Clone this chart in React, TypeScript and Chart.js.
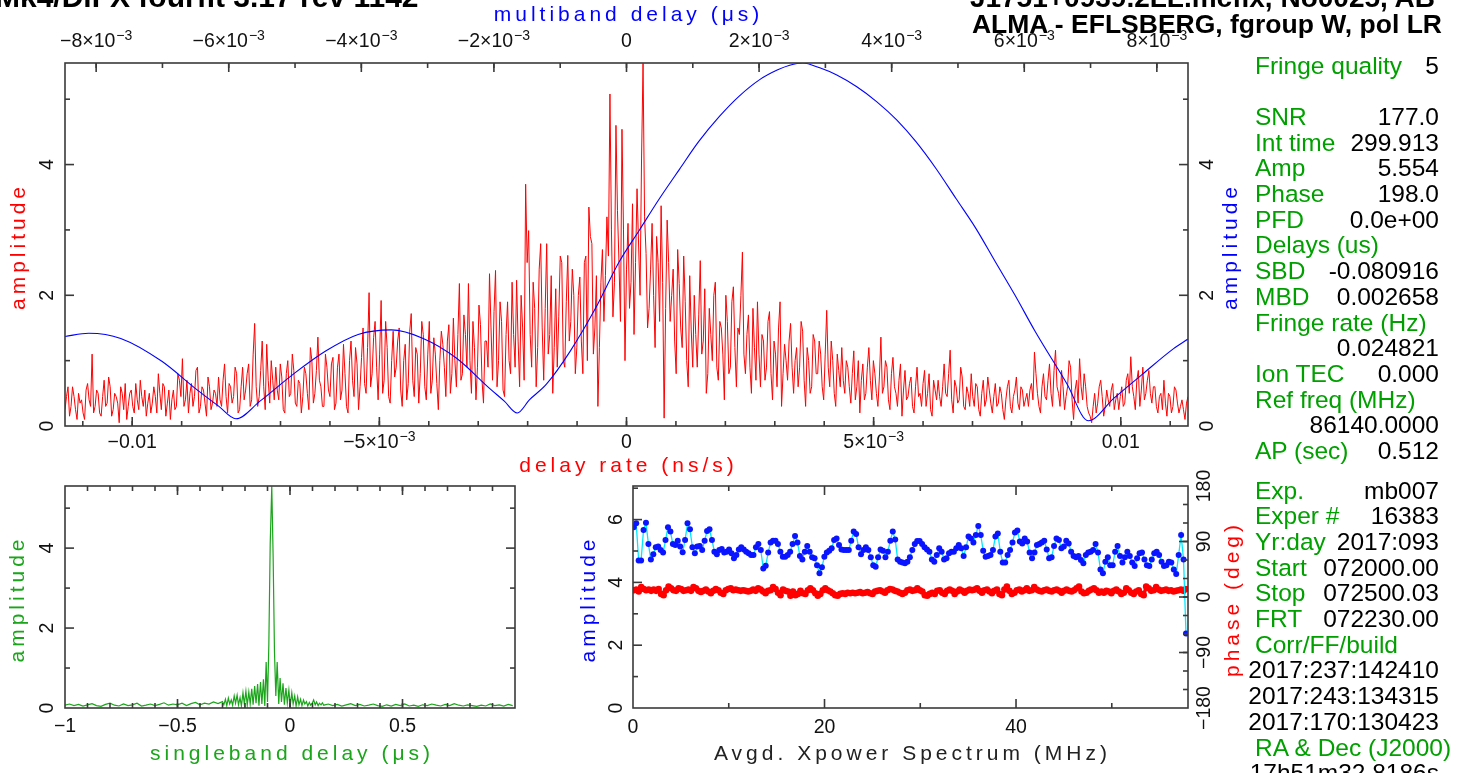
import React, { useEffect, useRef } from 'react';
import { Chart, registerables } from 'chart.js';

Chart.register(...registerables);

// ---------------- data ----------------
// Main panel: fringe amplitude vs delay rate (ns/s).
// RATE_AMP holds the even channels, RATE_AMP_ODD the channels half-way between them.
const RATE_RANGE = [-0.01136, 0.01136];
const RATE_AMP = [
  0.25, 0.6, 0.3, 0.45, 0.1, 0.35, 0.2, 0.55, 0.4, 1.1,
  0.3, 0.5, 0.15, 0.7, 0.35, 0.6, 0.25, 0.45, 0.05, 0.5,
  0.65, 0.3, 0.55, 0.2, 0.4, 0.7, 0.3, 0.15, 0.5, 0.35,
  0.45, 0.8, 0.25, 0.6, 0.35, 0.1, 0.55, 0.3, 0.7, 1.03,
  0.4, 0.2, 0.65, 0.45, 0.9, 0.3, 0.55, 0.15, 0.6, 0.35,
  0.5, 0.75, 0.3, 0.95, 0.2, 0.6, 0.45, 0.8, 0.25, 0.9,
  0.55, 0.95, 0.4, 1.57, 0.3, 0.85, 0.6, 1.25, 0.35, 0.7,
  0.9, 0.4, 0.75, 0.2, 1.0, 0.5, 0.85, 0.3, 0.65, 0.45,
  0.8, 0.25, 1.0, 0.5, 1.36, 0.6, 0.3, 0.9, 0.45, 1.05,
  0.35, 1.1, 0.55, 0.8, 0.2, 1.3, 0.45, 0.95, 0.6, 1.5,
  0.5, 2.04, 0.8, 1.6, 0.4, 1.92, 0.7, 1.2, 0.35, 1.45,
  0.9, 1.5, 0.3, 1.25, 0.65, 1.72, 0.45, 1.1, 0.8, 1.4,
  0.4, 1.6, 0.7, 1.1, 0.25, 1.45, 0.9, 1.3, 0.5, 1.65,
  0.6, 2.18, 0.8, 1.4, 2.18, 0.5, 1.2, 0.9, 1.55, 0.35,
  1.3, 2.33, 0.7, 2.38, 1.0, 1.6, 0.45, 1.9, 0.8, 1.4,
  2.23, 0.6, 1.5, 3.7, 2.99, 0.9, 1.8, 1.2, 2.79, 0.7,
  2.79, 1.4, 0.5, 2.1, 1.67, 2.5, 0.9, 2.61, 1.6, 2.0,
  1.2, 2.28, 0.8, 2.6, 3.35, 2.79, 1.5, 0.3, 2.2, 1.6,
  3.2, 5.08, 1.67, 4.6, 2.5, 4.54, 1.0, 3.1, 2.2, 1.4,
  3.63, 2.0, 5.55, 2.64, 1.8, 3.1, 1.2, 2.5, 3.37, 0.12,
  3.15, 1.6, 2.4, 0.8, 2.18, 1.2, 1.9, 0.6, 1.47, 2.0,
  0.9, 2.53, 1.3, 0.5, 1.8, 1.0, 2.2, 0.7, 1.5, 0.4,
  1.6, 0.9, 2.13, 0.6, 1.4, 2.66, 0.8, 1.7, 0.5, 1.2,
  1.9, 0.6, 1.3, 0.9, 1.75, 0.4, 1.1, 1.5, 0.3, 1.25,
  0.7, 1.57, 0.5, 1.2, 0.9, 1.45, 0.3, 1.0, 0.6, 1.3,
  0.8, 1.1, 0.4, 1.77, 0.6, 1.0, 0.3, 0.85, 1.2, 0.5,
  0.9, 0.35, 1.15, 0.6, 0.2, 0.95, 0.5, 1.2, 0.4, 0.8,
  0.3, 1.36, 0.6, 0.9, 0.25, 1.05, 0.5, 0.7, 0.15, 0.85,
  0.45, 0.75, 0.2, 0.9, 0.5, 0.65, 0.3, 0.8, 0.15, 0.55,
  0.7, 0.3, 0.95, 0.45, 1.16, 0.2, 0.6, 0.4, 0.75, 0.25,
  0.5, 0.8, 0.3, 0.6, 0.15, 0.7, 0.4, 0.55, 0.2, 0.65,
  0.35, 0.5, 0.1, 0.6, 0.3, 0.45, 0.75, 0.25, 0.55, 0.4,
  0.3, 0.65, 1.13, 0.5, 0.2, 0.8, 0.4, 0.95, 0.3, 1.16,
  0.5, 0.85, 0.25, 0.6, 0.9, 0.1, 0.7, 1.03, 0.4, 0.6,
  0.2, 0.05, 0.5, 0.35, 0.7, 0.15, 0.55, 0.3, 0.65, 0.4,
  0.25, 0.6, 0.35, 0.8, 1.06, 0.45, 0.7, 0.3, 0.9, 0.5,
  0.85, 0.35, 0.6, 0.2, 0.5, 0.7, 0.15, 0.45, 0.3, 0.55,
  0.2, 0.4, 0.1, 0.45,
];
const RATE_AMP_ODD = [
  0.45, 0.15, 0.6, 0.25, 0.5, 0.4, 0.1, 0.65, 0.3, 0.2,
  0.55, 0.2, 0.45, 0.3, 0.75, 0.15, 0.5, 0.35, 0.6, 0.25,
  0.1, 0.5, 0.3, 0.65, 0.25, 0.45, 0.55, 0.35, 0.2, 0.6,
  0.2, 0.5, 0.65, 0.15, 0.55, 0.4, 0.25, 0.8, 0.45, 0.3,
  0.7, 0.5, 0.3, 0.85, 0.2, 0.6, 0.35, 0.75, 0.25, 0.55,
  0.3, 0.4, 0.7, 0.45, 0.65, 0.35, 0.9, 0.2, 0.6, 0.4,
  0.8, 0.3, 1.1, 0.6, 0.45, 1.3, 0.25, 0.7, 1.0, 0.4,
  0.55, 0.95, 0.25, 0.8, 0.45, 1.1, 0.35, 0.7, 0.2, 0.9,
  0.5, 1.2, 0.35, 0.85, 0.7, 0.3, 1.1, 0.55, 0.95, 0.25,
  0.9, 0.4, 1.25, 0.3, 1.0, 0.7, 1.2, 0.25, 1.05, 0.65,
  1.2, 0.6, 1.35, 0.9, 1.1, 0.5, 1.6, 0.45, 1.0, 0.75,
  1.3, 0.55, 1.0, 0.4, 1.45, 0.7, 1.2, 0.35, 1.6, 0.6,
  1.1, 0.5, 1.35, 0.65, 1.0, 1.25, 0.45, 1.55, 0.8, 1.0,
  1.4, 0.7, 1.7, 0.9, 1.0, 1.6, 0.4, 1.85, 0.7, 1.3,
  0.9, 1.5, 1.75, 0.6, 1.9, 0.55, 1.4, 1.0, 2.2, 0.9,
  1.3, 2.0, 0.7, 2.5, 1.4, 2.2, 0.6, 2.4, 1.5, 1.8,
  1.1, 2.3, 1.2, 0.9, 2.6, 1.0, 1.9, 1.3, 2.4, 0.8,
  2.0, 1.3, 2.5, 1.0, 2.9, 1.1, 2.3, 1.2, 2.7, 2.3,
  2.6, 3.0, 2.2, 3.3, 1.6, 3.0, 2.4, 1.8, 3.4, 2.5,
  2.8, 4.1, 3.2, 1.5, 2.4, 2.0, 2.9, 1.6, 2.2, 1.8,
  2.5, 2.0, 1.3, 2.7, 1.5, 2.6, 1.0, 2.3, 0.9, 1.4,
  1.7, 1.1, 2.1, 0.8, 1.4, 2.0, 0.9, 1.6, 1.1, 2.0,
  0.8, 1.9, 1.2, 1.5, 2.0, 1.1, 1.4, 0.9, 1.8, 0.7,
  1.1, 1.4, 0.7, 1.6, 0.8, 1.3, 0.6, 1.9, 0.8, 1.0,
  1.3, 0.9, 1.0, 0.6, 1.6, 0.7, 1.2, 0.5, 1.4, 0.8,
  1.3, 0.6, 1.1, 0.9, 1.3, 0.5, 1.1, 0.6, 0.7, 1.0,
  0.6, 0.8, 0.4, 1.0, 0.7, 0.4, 0.9, 0.7, 1.0, 0.5,
  0.75, 0.5, 1.0, 0.4, 0.8, 0.6, 0.3, 0.95, 0.55, 0.4,
  0.65, 0.3, 0.6, 0.45, 0.3, 0.85, 0.5, 0.25, 0.7, 0.4,
  0.45, 0.6, 0.5, 0.8, 0.4, 0.7, 0.35, 0.9, 0.3, 0.6,
  0.3, 0.45, 0.65, 0.25, 0.5, 0.3, 0.75, 0.35, 0.45, 0.3,
  0.6, 0.25, 0.4, 0.7, 0.2, 0.55, 0.35, 0.6, 0.3, 0.5,
  0.55, 0.4, 0.8, 0.3, 0.6, 0.45, 0.7, 0.5, 0.85, 0.6,
  0.3, 0.6, 0.45, 1.0, 0.4, 0.55, 0.35, 0.6, 0.8, 0.3,
  0.15, 0.3, 0.2, 0.6, 0.45, 0.3, 0.4, 0.55, 0.25, 0.5,
  0.45, 0.3, 0.7, 0.5, 0.6, 0.25, 0.85, 0.55, 0.4, 0.7,
  0.5, 0.6, 0.3, 0.45, 0.25, 0.35, 0.5, 0.2, 0.6, 0.35,
  0.3, 0.25, 0.35,
];

// Main panel: multiband delay function (µs vs amplitude)
const MBD_RANGE = [-0.00847, 0.00847];
const MBD_DELAY = [
  -0.00847, -0.008112, -0.007629, -0.007009, -0.006511, -0.006148, -0.005891, -0.005529,
  -0.00503, -0.004532, -0.004048, -0.00355, -0.003067, -0.002568, -0.00207, -0.001843,
  -0.001647, -0.001465, -0.001208, -0.000846, -0.000468, -0.000106, 0.000196, 0.000498,
  0.000801, 0.001088, 0.001405, 0.001692, 0.002009, 0.002281, 0.002462, 0.002658,
  0.002915, 0.003172, 0.003474, 0.003777, 0.004079, 0.004366, 0.004668, 0.00497,
  0.005272, 0.005559, 0.005861, 0.006163, 0.006647, 0.006964, 0.007357, 0.00778,
  0.008248, 0.00847,
];
const MBD_AMP = [
  1.37, 1.42, 1.34, 0.99, 0.58, 0.3, 0.11, 0.38,
  0.79, 1.15, 1.4, 1.47, 1.34, 1.04, 0.58, 0.38,
  0.2, 0.4, 0.64, 1.15, 1.8, 2.52, 3.0, 3.48,
  3.93, 4.35, 4.74, 5.04, 5.3, 5.45, 5.52, 5.554,
  5.48, 5.37, 5.19, 4.96, 4.68, 4.35, 3.94, 3.48,
  3.02, 2.52, 2.0, 1.45, 0.64, 0.08, 0.43, 0.79,
  1.18, 1.33,
];
const AMP_MAX = 5.554;

// Singleband delay function
const SBD_DELAY = [
  -1, -0.98, -0.96, -0.94, -0.92, -0.9, -0.88, -0.86, -0.84, -0.82,
  -0.8, -0.78, -0.76, -0.74, -0.72, -0.7, -0.68, -0.66, -0.64, -0.62,
  -0.6, -0.58, -0.56, -0.54, -0.52, -0.5, -0.48, -0.46, -0.44, -0.42,
  -0.4, -0.38, -0.36, -0.34, -0.32,
  -0.3, -0.294, -0.287, -0.281, -0.274, -0.268, -0.261, -0.255, -0.248, -0.242,
  -0.235, -0.229, -0.222, -0.216, -0.209, -0.203, -0.196, -0.19, -0.183, -0.177,
  -0.17, -0.164, -0.157, -0.151, -0.144, -0.138, -0.131, -0.125, -0.118, -0.112,
  -0.106, -0.1, -0.094, -0.088, -0.081, -0.075, -0.069, -0.063, -0.057, -0.05,
  -0.044, -0.038, -0.031, -0.025, -0.018, -0.012, -0.005, 0.001, 0.008, 0.014,
  0.021, 0.027, 0.034, 0.04, 0.047, 0.053, 0.06, 0.066, 0.073, 0.079,
  0.086, 0.092, 0.099, 0.105, 0.112, 0.118, 0.125, 0.131, 0.138, 0.144, 0.15,
  0.17, 0.19, 0.21, 0.23, 0.25, 0.27, 0.29, 0.31, 0.33, 0.35,
  0.37, 0.39, 0.41, 0.43, 0.45, 0.47, 0.49, 0.51, 0.53, 0.55,
  0.57, 0.59, 0.61, 0.63, 0.65, 0.67, 0.69, 0.71, 0.73, 0.75,
  0.77, 0.79, 0.81, 0.83, 0.85, 0.87, 0.89, 0.91, 0.93, 0.95, 0.97, 0.99,
];
const SBD_AMP = [
  0.07, 0.1, 0.06, 0.09, 0.05, 0.08, 0.11, 0.06, 0.04, 0.09,
  0.12, 0.07, 0.05, 0.1, 0.06, 0.08, 0.12, 0.05, 0.07, 0.1,
  0.06, 0.09, 0.13, 0.07, 0.1, 0.08, 0.12, 0.06, 0.11, 0.14,
  0.08, 0.12, 0.1, 0.15, 0.11,
  0.16, 0.08, 0.22, 0.06, 0.25, 0.1, 0.2, 0.07, 0.3, 0.12,
  0.32, 0.08, 0.26, 0.05, 0.38, 0.1, 0.42, 0.07, 0.4, 0.1,
  0.48, 0.08, 0.55, 0.12, 0.6, 0.06, 0.65, 0.1, 0.72, 0.05,
  1.15, 0.15, 1.6, 4.1, 5.55, 3.8, 1.4, 0.3, 1.15, 0.1,
  0.75, 0.15, 0.62, 0.08, 0.5, 0.12, 0.45, 0.06, 0.38, 0.1,
  0.3, 0.05, 0.28, 0.08, 0.22, 0.06, 0.2, 0.1, 0.16, 0.05,
  0.14, 0.07, 0.12, 0.2, 0.08, 0.15, 0.06, 0.12, 0.08, 0.13, 0.07,
  0.1, 0.06, 0.09, 0.05, 0.08, 0.11, 0.06, 0.09, 0.05, 0.07,
  0.1, 0.06, 0.04, 0.08, 0.05, 0.09, 0.06, 0.1, 0.05, 0.07,
  0.04, 0.08, 0.06, 0.1, 0.07, 0.05, 0.09, 0.06, 0.11, 0.07,
  0.05, 0.08, 0.06, 0.04, 0.07, 0.05, 0.1, 0.06, 0.08, 0.05, 0.09, 0.06,
];

// Averaged cross-power spectrum, channels evenly spaced from first to last frequency
const SPEC_FREQ_RANGE = [0.08, 57.75];
const SPEC_AMP = [
  5.76, 5.88, 4.7, 4.7, 5.67, 5.9, 5.22, 4.73, 4.9, 5.12,
  5.14, 5.03, 4.95, 5.35, 5.76, 5.62, 5.22, 5.19, 5.33, 5.14,
  4.96, 5.35, 5.88, 5.69, 5.12, 4.93, 5.14, 5.16, 5.03, 5.33,
  5.64, 5.69, 5.35, 4.98, 4.9, 5.03, 5.06, 4.95, 4.98, 5.05,
  4.93, 4.77, 4.87, 5.05, 5.12, 5.05, 4.98, 4.93, 4.87, 4.87,
  5.12, 5.22, 5.03, 4.44, 4.53, 4.95, 5.27, 5.33, 5.33, 5.22,
  4.98, 4.82, 4.82, 4.87, 4.98, 5.22, 5.48, 5.27, 4.84, 4.73,
  4.98, 5.16, 4.98, 4.8, 4.77, 4.55, 4.29, 4.48, 4.82, 4.95,
  5.01, 5.09, 5.35, 5.4, 5.19, 5.05, 5.03, 5.03, 5.03, 5.33,
  5.62, 5.54, 5.12, 4.9, 5.03, 5.12, 5.03, 4.8, 4.55, 4.5,
  4.8, 5.05, 5.01, 4.8, 4.98, 5.33, 5.62, 5.37, 4.73, 4.66,
  4.63, 4.61, 4.66, 4.8, 5.03, 5.22, 5.32, 5.32, 5.22, 5.12,
  5.05, 4.98, 4.73, 4.66, 4.87, 5.09, 4.98, 4.73, 4.77, 4.93,
  4.98, 4.98, 5.09, 5.19, 5.09, 4.84, 5.12, 5.46, 5.4, 5.27,
  5.51, 5.8, 5.51, 5.01, 4.82, 4.84, 4.87, 5.03, 5.46, 5.56,
  4.98, 4.63, 4.63, 4.87, 5.03, 5.27, 5.59, 5.65, 5.3, 5.24,
  5.4, 5.3, 4.95, 4.77, 4.95, 5.19, 5.22, 5.27, 5.33, 5.05,
  4.77, 4.8, 5.16, 5.4, 5.35, 5.09, 5.14, 5.33, 5.24, 4.98,
  4.84, 4.8, 4.84, 4.71, 4.61, 4.87, 4.95, 4.98, 5.03, 5.22,
  4.95, 4.41, 4.29, 4.66, 4.8, 4.55, 4.55, 4.98, 5.16, 4.84,
  4.63, 4.8, 4.98, 4.84, 4.63, 4.52, 4.77, 4.93, 4.95, 4.73,
  4.55, 4.52, 4.73, 4.93, 4.98, 4.87, 4.66, 4.52, 4.55, 4.66,
  4.63, 4.41, 4.27, 4.87, 5.51, 4.73, 2.37,
];
const SPEC_PHASE = [
  11, 12, 9, 16, 13, 11, 12, 10, 12, 10, 13, 5, 3, 11, 17, 14, 11, 10, 14, 13,
  10, 11, 12, 10, 16, 14, 10, 8, 10, 12, 9, 6, 10, 13, 11, 7, 5, 11, 13, 14,
  11, 12, 11, 10, 11, 10, 9, 10, 12, 10, 14, 12, 9, 6, 10, 11, 16, 13, 7, 3,
  12, 10, 9, 2, 9, 3, 5, 10, 6, 5, 11, 14, 11, 6, 2, 5, 11, 14, 11, 9,
  6, 3, 2, 5, 6, 5, 7, 6, 7, 6, 7, 8, 6, 7, 8, 6, 5, 9, 10, 11,
  9, 7, 11, 13, 12, 10, 9, 7, 5, 7, 11, 12, 10, 11, 14, 11, 9, 3, 2, 5,
  7, 5, 10, 11, 7, 5, 10, 12, 10, 5, 9, 12, 10, 7, 10, 12, 11, 12, 14, 10,
  7, 11, 12, 9, 6, 10, 12, 5, 3, 12, 17, 10, 5, 7, 11, 12, 9, 11, 14, 10,
  11, 16, 12, 10, 9, 11, 12, 10, 9, 11, 12, 10, 7, 10, 12, 10, 9, 11, 14, 17,
  9, 6, 7, 10, 12, 14, 11, 7, 9, 7, 10, 9, 6, 10, 12, 9, 5, 7, 14, 11,
  7, 5, 9, 11, 5, 3, 17, 14, 10, 11, 16, 12, 10, 11, 12, 10, 11, 9, 10, 11,
  12, 10, 13,
];
const SPEC_X_MAX = 57.96;
const SPEC_AMP_MAX = 7.07;

// ---------------- tick labels ----------------
const RATE_TICKS = [-0.01, -0.005, 0, 0.005, 0.01];
const RATE_TICK_LABELS = ['−0.01', '−5×10⁻³', '0', '5×10⁻³', '0.01'];
const MBD_TICKS = [-0.008, -0.006, -0.004, -0.002, 0, 0.002, 0.004, 0.006, 0.008];
const MBD_TICK_LABELS = ['−8×10⁻³', '−6×10⁻³', '−4×10⁻³', '−2×10⁻³', '0', '2×10⁻³', '4×10⁻³', '6×10⁻³', '8×10⁻³'];
const AMP_TICKS = [0, 2, 4];
const AMP_TICK_LABELS = ['0', '2', '4'];
const AMP_MINOR = [1, 3, 5];
const SBD_TICKS = [-1, -0.5, 0, 0.5];
const SBD_TICK_LABELS = ['−1', '−0.5', '0', '0.5'];
const FREQ_TICKS = [0, 20, 40];
const FREQ_TICK_LABELS = ['0', '20', '40'];
const FREQ_MINOR = [10, 30, 50];
const SPEC_AMP_TICKS = [0, 2, 4, 6];
const SPEC_AMP_TICK_LABELS = ['0', '2', '4', '6'];
const SPEC_AMP_MINOR = [1, 3, 5, 7];
const PHASE_TICKS = [-180, -90, 0, 90, 180];
const PHASE_TICK_LABELS = ['−180', '−90', '0', '90', '180'];

// ---------------- text panel ----------------
const TITLE_LEFT = 'Mk4/DiFX fourfit 3.17 rev 1142';
const TITLE_RIGHT = 'J1751+0939.2LL.mcfix, No0025, AB';
const TITLE_BASELINE = 'ALMA - EFLSBERG, fgroup W, pol LR';
const INFO_TOP = [
  ['Fringe quality', '5'],
  ['', ''],
  ['SNR', '177.0'],
  ['Int time', '299.913'],
  ['Amp', '5.554'],
  ['Phase', '198.0'],
  ['PFD', '0.0e+00'],
  ['Delays (us)', ''],
  ['SBD', '-0.080916'],
  ['MBD', '0.002658'],
  ['Fringe rate (Hz)', ''],
  ['', '0.024821'],
  ['Ion TEC', '0.000'],
  ['Ref freq (MHz)', ''],
  ['', '86140.0000'],
  ['AP (sec)', '0.512'],
];
const INFO_BOTTOM = [
  ['Exp.', 'mb007'],
  ['Exper #', '16383'],
  ['Yr:day', '2017:093'],
  ['Start', '072000.00'],
  ['Stop', '072500.03'],
  ['FRT', '072230.00'],
  ['Corr/FF/build', ''],
  ['', '2017:237:142410'],
  ['', '2017:243:134315'],
  ['', '2017:170:130423'],
  ['RA & Dec (J2000)', ''],
  ['', '17h51m32.8186s'],
];

// ---------------- styles ----------------
const RED = '#ff0000';
const BLUE = '#0000ff';
const GREEN = '#1aa51a';
const PANEL_GREEN = '#00a000';
const FRAME = '#3a3a3a';
const TICK_FONT = '19.5px "Liberation Sans", "DejaVu Sans", sans-serif';
const EXP_FONT = '14px "Liberation Sans", "DejaVu Sans", sans-serif';
const TITLE_FONT = '21px "Liberation Sans", "DejaVu Sans", sans-serif';
const TITLE_SPACING = 4;

type Side = 'left' | 'right' | 'top' | 'bottom';
interface AxisDef {
  id: string;
  side: Side;
  major: number[];
  minor: number[];
  labels?: string[];
  labelGap?: number;
  title?: string;
  titleColor?: string;
  titleGap?: number;
}

function steps(from: number, to: number, step: number): number[] {
  const out: number[] = [];
  const n = Math.round((to - from) / step);
  for (let i = 0; i <= n; i++) out.push(+(from + i * step).toFixed(6));
  return out;
}

function evenly(values: number[], range: number[]) {
  const d = (range[1] - range[0]) / (values.length - 1);
  return values.map((v, i) => ({ x: range[0] + i * d, y: v }));
}

// even channels + odd (half-way) channels merged in axis order
function interleaved(even: number[], odd: number[], range: number[]) {
  const d = (range[1] - range[0]) / (even.length - 1);
  const out: { x: number; y: number }[] = [];
  even.forEach((v, i) => {
    out.push({ x: range[0] + i * d, y: v });
    if (i < odd.length) out.push({ x: range[0] + (i + 0.5) * d, y: odd[i] });
  });
  return out;
}

function placeText(ctx: CanvasRenderingContext2D, text: string, side: Side, a: any, p: number, gap: number) {
  ctx.save();
  ctx.textAlign = 'center';
  ctx.textBaseline = 'alphabetic';
  if (side === 'bottom') ctx.fillText(text, p, a.bottom + gap);
  else if (side === 'top') ctx.fillText(text, p, a.top - gap);
  else {
    const x = side === 'left' ? a.left - gap : a.right + gap;
    ctx.translate(x, p);
    ctx.rotate(-Math.PI / 2);
    ctx.fillText(text, 0, 0);
  }
  ctx.restore();
}

// tick label with a raised exponent ("5×10⁻³" drawn as 5×10 with a superscript −3)
const SUP_MAP: Record<string, string> = { '⁻': '−', '⁰': '0', '¹': '1', '²': '2', '³': '3', '⁴': '4', '⁵': '5', '⁶': '6', '⁷': '7', '⁸': '8', '⁹': '9' };
function placeTickLabel(ctx: CanvasRenderingContext2D, text: string, side: Side, a: any, p: number, gap: number) {
  const k = text.indexOf('⁻');
  if (k < 0 || (side !== 'top' && side !== 'bottom')) {
    ctx.font = TICK_FONT;
    placeText(ctx, text, side, a, p, gap);
    return;
  }
  const base = text.slice(0, k);
  const exp = text.slice(k).split('').map((c) => SUP_MAP[c] || c).join('');
  ctx.save();
  ctx.font = TICK_FONT;
  const wb = ctx.measureText(base).width;
  ctx.font = EXP_FONT;
  const we = ctx.measureText(exp).width;
  const x0 = p - (wb + we + 1) / 2;
  const y = side === 'bottom' ? a.bottom + gap : a.top - gap;
  ctx.textAlign = 'left';
  ctx.textBaseline = 'alphabetic';
  ctx.font = TICK_FONT;
  ctx.fillText(base, x0, y);
  ctx.font = EXP_FONT;
  ctx.fillText(exp, x0 + wb + 1, y - 7);
  ctx.restore();
}

function framePlugin(axes: AxisDef[]) {
  return {
    id: 'pgframe',
    afterDatasetsDraw(chart: any) {
      const ctx: CanvasRenderingContext2D = chart.ctx;
      const a = chart.chartArea;
      ctx.save();
      ctx.strokeStyle = FRAME;
      ctx.lineWidth = 1.6;
      ctx.strokeRect(a.left, a.top, a.right - a.left, a.bottom - a.top);
      for (const ax of axes) {
        const s = chart.scales[ax.id];
        const horiz = ax.side === 'top' || ax.side === 'bottom';
        const tick = (v: number, len: number) => {
          const p = s.getPixelForValue(v);
          if (horiz ? p < a.left + 1 || p > a.right - 1 : p < a.top + 1 || p > a.bottom - 1) return;
          ctx.beginPath();
          if (ax.side === 'bottom') { ctx.moveTo(p, a.bottom); ctx.lineTo(p, a.bottom - len); }
          else if (ax.side === 'top') { ctx.moveTo(p, a.top); ctx.lineTo(p, a.top + len); }
          else if (ax.side === 'left') { ctx.moveTo(a.left, p); ctx.lineTo(a.left + len, p); }
          else { ctx.moveTo(a.right, p); ctx.lineTo(a.right - len, p); }
          ctx.stroke();
        };
        ax.minor.forEach((v) => tick(v, 5));
        ax.major.forEach((v) => tick(v, 9));
        if (ax.labels) {
          ctx.fillStyle = '#111';
          ax.major.forEach((v, i) => {
            const t = ax.labels![i];
            if (t) placeTickLabel(ctx, t, ax.side, a, s.getPixelForValue(v), ax.labelGap || 0);
          });
        }
        if (ax.title) {
          ctx.font = TITLE_FONT;
          (ctx as any).letterSpacing = TITLE_SPACING + 'px';
          ctx.fillStyle = ax.titleColor || '#000';
          const mid = horiz ? (a.left + a.right) / 2 + TITLE_SPACING / 2 : (a.top + a.bottom) / 2 + TITLE_SPACING / 2;
          placeText(ctx, ax.title, ax.side, a, mid, ax.titleGap || 0);
          (ctx as any).letterSpacing = '0px';
        }
      }
      ctx.restore();
    },
  };
}

function baseOptions(pad: any) {
  return {
    animation: false,
    responsive: false,
    maintainAspectRatio: false,
    events: [],
    layout: { padding: pad },
    plugins: { legend: { display: false }, tooltip: { enabled: false }, title: { display: false } },
  };
}

const hidden = (min: number, max: number, axis: string) => ({ type: 'linear', axis, display: false, min, max });

function mainConfig(w: number, h: number) {
  const axes: AxisDef[] = [
    { id: 'x', side: 'bottom', major: RATE_TICKS, minor: steps(-0.011, 0.011, 0.001), labels: RATE_TICK_LABELS, labelGap: 22, title: 'delay rate (ns/s)', titleColor: RED, titleGap: 46 },
    { id: 'x2', side: 'top', major: MBD_TICKS, minor: steps(-0.008, 0.008, 0.001), labels: MBD_TICK_LABELS, labelGap: 16, title: 'multiband delay (μs)', titleColor: BLUE, titleGap: 42 },
    { id: 'y', side: 'left', major: AMP_TICKS, minor: AMP_MINOR, labels: AMP_TICK_LABELS, labelGap: 12, title: 'amplitude', titleColor: RED, titleGap: 40 },
    { id: 'y2', side: 'right', major: AMP_TICKS, minor: AMP_MINOR, labels: AMP_TICK_LABELS, labelGap: 25, title: 'amplitude', titleColor: BLUE, titleGap: 49 },
  ];
  return {
    type: 'line',
    data: {
      datasets: [
        {
          data: MBD_DELAY.map((d, i) => ({ x: d, y: MBD_AMP[i] })),
          xAxisID: 'x2', yAxisID: 'y2',
          borderColor: BLUE, borderWidth: 1.1, pointRadius: 0, cubicInterpolationMode: 'monotone',
        },
        {
          data: interleaved(RATE_AMP, RATE_AMP_ODD, RATE_RANGE),
          xAxisID: 'x', yAxisID: 'y',
          borderColor: RED, borderWidth: 1, pointRadius: 0, tension: 0,
        },
      ],
    },
    options: {
      ...baseOptions({ left: 65, top: 63, right: w - 1188, bottom: h - 426 }),
      scales: {
        x: hidden(RATE_RANGE[0], RATE_RANGE[1], 'x'),
        x2: hidden(MBD_RANGE[0], MBD_RANGE[1], 'x'),
        y: hidden(0, AMP_MAX, 'y'),
        y2: hidden(0, AMP_MAX, 'y'),
      },
    },
    plugins: [framePlugin(axes)],
  };
}

function sbdConfig(w: number, h: number) {
  const minor = steps(-1, 1, 0.1);
  const axes: AxisDef[] = [
    { id: 'x', side: 'bottom', major: SBD_TICKS, minor, labels: SBD_TICK_LABELS, labelGap: 24, title: 'singleband delay (μs)', titleColor: GREEN, titleGap: 52 },
    { id: 'x', side: 'top', major: SBD_TICKS, minor },
    { id: 'y', side: 'left', major: AMP_TICKS, minor: AMP_MINOR, labels: AMP_TICK_LABELS, labelGap: 12, title: 'amplitude', titleColor: GREEN, titleGap: 41 },
    { id: 'y', side: 'right', major: AMP_TICKS, minor: AMP_MINOR },
  ];
  return {
    type: 'line',
    data: {
      datasets: [
        {
          data: SBD_DELAY.map((d, i) => ({ x: d, y: SBD_AMP[i] })),
          borderColor: GREEN, borderWidth: 1.2, pointRadius: 0, tension: 0,
        },
      ],
    },
    options: {
      ...baseOptions({ left: 65, top: 16, right: w - 515, bottom: h - 238 }),
      scales: { x: hidden(-1, 1, 'x'), y: hidden(0, AMP_MAX, 'y') },
    },
    plugins: [framePlugin(axes)],
  };
}

function specConfig(w: number, h: number) {
  const axes: AxisDef[] = [
    { id: 'x', side: 'bottom', major: FREQ_TICKS, minor: FREQ_MINOR, labels: FREQ_TICK_LABELS, labelGap: 25, title: 'Avgd. Xpower Spectrum (MHz)', titleColor: '#222', titleGap: 52 },
    { id: 'x', side: 'top', major: FREQ_TICKS, minor: FREQ_MINOR },
    { id: 'y', side: 'left', major: SPEC_AMP_TICKS, minor: SPEC_AMP_MINOR, labels: SPEC_AMP_TICK_LABELS, labelGap: 11, title: 'amplitude', titleColor: BLUE, titleGap: 38 },
    { id: 'y2', side: 'right', major: PHASE_TICKS, minor: steps(-150, 150, 30), labels: PHASE_TICK_LABELS, labelGap: 22, title: 'phase (deg)', titleColor: RED, titleGap: 51 },
  ];
  return {
    type: 'line',
    data: {
      datasets: [
        {
          data: evenly(SPEC_AMP, SPEC_FREQ_RANGE),
          xAxisID: 'x', yAxisID: 'y',
          borderColor: '#00e8ff', borderWidth: 1.3, tension: 0,
          pointRadius: 3, pointBackgroundColor: '#0a14ff', pointBorderWidth: 0,
        },
        {
          data: evenly(SPEC_PHASE, SPEC_FREQ_RANGE),
          xAxisID: 'x', yAxisID: 'y2',
          borderColor: RED, borderWidth: 3.5, tension: 0,
          pointRadius: 3.3, pointBackgroundColor: RED, pointBorderWidth: 0,
        },
      ],
    },
    options: {
      ...baseOptions({ left: 63, top: 16, right: w - 618, bottom: h - 238 }),
      scales: {
        x: hidden(0, SPEC_X_MAX, 'x'),
        y: hidden(0, SPEC_AMP_MAX, 'y'),
        y2: hidden(-180, 180, 'y'),
      },
    },
    plugins: [framePlugin(axes)],
  };
}

function ChartCanvas(props: { left: number; top: number; width: number; height: number; make: (w: number, h: number) => any }) {
  const ref = useRef<HTMLCanvasElement>(null);
  const { left, top, width, height, make } = props;
  useEffect(() => {
    const chart = new Chart(ref.current as HTMLCanvasElement, make(width, height));
    return () => chart.destroy();
  }, []);
  return (
    <canvas
      ref={ref}
      width={width}
      height={height}
      style={{ position: 'absolute', left, top, width, height, display: 'block' }}
    />
  );
}

function InfoPanel() {
  const font = '"Liberation Sans", Arial, sans-serif';
  const rows: any[] = [];
  const push = (list: string[][], y0: number, key: string) => {
    list.forEach(([label, value], k) => {
      const y = y0 + 25.7 * k;
      if (label) rows.push(<text key={key + 'l' + k} x={1255} y={y} fill={PANEL_GREEN}>{label}</text>);
      if (value) rows.push(<text key={key + 'v' + k} x={1439} y={y} fill="#000" textAnchor="end">{value}</text>);
    });
  };
  push(INFO_TOP, 73.5, 't');
  push(INFO_BOTTOM, 498.5, 'b');
  return (
    <svg width={1462} height={773} style={{ position: 'absolute', left: 0, top: 0, pointerEvents: 'none' }}>
      <g fontFamily={font} fontWeight="bold" fill="#000">
        <text x={-5} y={7} fontSize={30}>{TITLE_LEFT}</text>
        <text x={1435} y={7} fontSize={28} textAnchor="end">{TITLE_RIGHT}</text>
        <text x={1442} y={33} fontSize={26.5} textAnchor="end">{TITLE_BASELINE}</text>
      </g>
      <g fontFamily={font} fontSize={24.5}>{rows}</g>
    </svg>
  );
}

export default function App() {
  return (
    <div style={{ position: 'absolute', left: 0, top: 0, width: 1462, height: 773, overflow: 'hidden', background: '#fff' }}>
      <ChartCanvas left={0} top={0} width={1250} height={480} make={mainConfig} />
      <ChartCanvas left={0} top={470} width={560} height={303} make={sbdConfig} />
      <ChartCanvas left={570} top={470} width={680} height={303} make={specConfig} />
      <InfoPanel />
    </div>
  );
}
